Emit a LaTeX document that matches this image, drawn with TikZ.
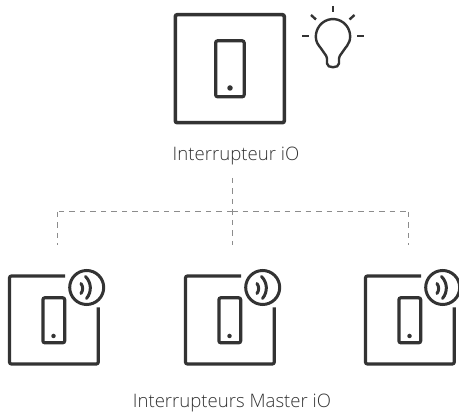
\documentclass[tikz,border=0pt]{standalone}
\usepackage{fontspec}
\setmainfont{Open Sans Light}
\definecolor{icon}{HTML}{333333}
\definecolor{link}{HTML}{8C8C8C}

\begin{document}
\begin{tikzpicture}[x=1pt, y=-1pt]
        \tikzset{plate/.style = {shape=rectangle,draw=icon,line width=3.6pt,rounded corners=2pt,minimum width=109pt,minimum height=108pt,inner sep=0pt,outer sep=0pt}}
        \tikzset{phone/.style = {shape=rectangle,draw=icon,line width=3.2pt,rounded corners=2pt,inner sep=0pt,outer sep=0pt}}
        \tikzset{led/.style = {shape=circle,fill=icon,inner sep=0pt,minimum size=#1}}
        \tikzset{radio/.style = {shape=circle,draw=icon,line width=3pt,inner sep=0pt,minimum size=34pt}}
        \tikzset{stroke/.style = {draw=icon,line width=3.2pt,rounded corners=2pt}}
        \tikzset{wave/.style = {draw=icon,line width=3pt,line cap=round}}
        \tikzset{ray/.style = {draw=icon,line width=2.4pt}}
        \tikzset{bulb/.style = {draw=icon,line width=2.4pt,rounded corners=1.5pt}}
        \tikzset{link/.style = {draw=link,line width=1pt,dash pattern=on 5.5pt off 5pt}}
        \tikzset{caption/.style = {text=icon,font=\fontsize{18.6pt}{21pt}\selectfont,inner sep=0pt,anchor=base}}

        \useasboundingbox (0, 0) rectangle (459, 414);

        % top switch and lamp
        \node[plate] (main) at (229.8, 68.7) {};
        \node[phone, minimum width=28.5pt, minimum height=56pt] (mainphone) at (229.9, 68.8) {};
        \node[led=5.5pt] (mainled) at (230, 88) {};
        \node[caption] (maintext) at (236, 161) {Interrupteur iO};

        \draw[bulb] (320, 47) arc[start angle=140, end angle=400, radius=17] -- (339, 57) -- (339, 62)
                .. controls (339, 68.5) and (327, 68.5) .. (327, 62) -- (327, 57) -- cycle;
        \draw[ray] (333, 6) -- (333, 12);
        \draw[ray] (302, 36) -- (308.5, 36);
        \draw[ray] (357, 36) -- (363.5, 36);
        \draw[ray] (311, 15) -- (316, 19.5);
        \draw[ray] (354.5, 15) -- (349.5, 19.5);

        % dashed links
        \coordinate (busin) at (232, 178);
        \coordinate (busjoin) at (232, 212);
        \coordinate (busout) at (232, 245);
        \coordinate (busleft) at (57, 212);
        \coordinate (busright) at (408, 212);
        \coordinate (leftend) at (57, 245);
        \coordinate (rightend) at (408, 245);

        \draw[link] (busin) to (busout);
        \draw[link] (busjoin) to (busleft);
        \draw[link] (busleft) to (leftend);
        \draw[link] (busjoin) to (busright);
        \draw[link] (busright) to (rightend);

        % master 1
        \draw[stroke] (65, 276) -| (9.5, 364) -| (98.3, 307.5);
        \node[phone, minimum width=21.8pt, minimum height=45pt] (phone1) at (53.8, 320.3) {};
        \node[led=4.5pt] (led1) at (53.5, 336) {};
        \node[radio] (radio1) at (86.7, 287.5) {};
        \draw[wave] (81, 283.5) to[bend left=35] (81, 293.5);
        \draw[wave] (85.5, 276.5) to[bend left=42] (86.5, 298.5);

        % master 2
        \draw[stroke] (241, 276) -| (185.5, 364) -| (274.3, 307.5);
        \node[phone, minimum width=21.8pt, minimum height=45pt] (phone2) at (229.8, 320.3) {};
        \node[led=4.5pt] (led2) at (229.5, 336) {};
        \node[radio] (radio2) at (262.7, 287.5) {};
        \draw[wave] (257, 283.5) to[bend left=35] (257, 293.5);
        \draw[wave] (261.5, 276.5) to[bend left=42] (262.5, 298.5);

        % master 3
        \draw[stroke] (421, 276) -| (365.5, 364) -| (454.3, 307.5);
        \node[phone, minimum width=21.8pt, minimum height=45pt] (phone3) at (409.8, 320.3) {};
        \node[led=4.5pt] (led3) at (409.5, 336) {};
        \node[radio] (radio3) at (442.7, 287.5) {};
        \draw[wave] (437, 283.5) to[bend left=35] (437, 293.5);
        \draw[wave] (441.5, 276.5) to[bend left=42] (442.5, 298.5);

        \node[caption] (mastertext) at (232, 408) {Interrupteurs Master iO};
      \end{tikzpicture}
\end{document}
